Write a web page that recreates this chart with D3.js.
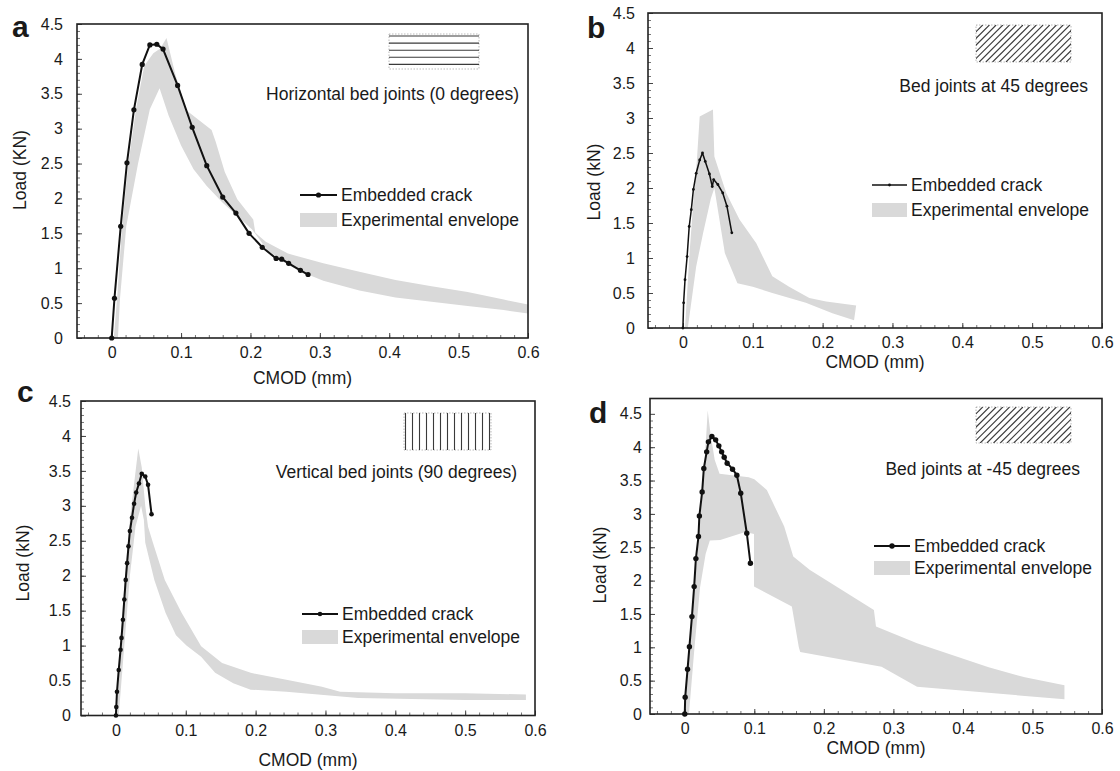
<!DOCTYPE html>
<html>
<head>
<meta charset="utf-8">
<script src="https://cdn.jsdelivr.net/npm/d3@7"></script>
<style>
  body { margin: 0; background: #fff; }
  svg text { font-family: "Liberation Sans", Arial, Helvetica, sans-serif; fill: #1a1a1a; }
</style>
</head>
<body>
<svg id="fig" width="1120" height="771"></svg>
<script>
// tick values, shared by the four panels
const xTicks = [0, 0.1, 0.2, 0.3, 0.4, 0.5, 0.6];
const yTicks = [0, 0.5, 1, 1.5, 2, 2.5, 3, 3.5, 4, 4.5];
const legendLabels = ["Embedded crack", "Experimental envelope"];

// (a) horizontal bed joints - [CMOD mm, load kN]
const crackA = [[0,0],[0.004,0.57],[0.013,1.6],[0.022,2.51],[0.032,3.27],[0.044,3.92],[0.055,4.2],[0.065,4.21],
  [0.074,4.14],[0.095,3.62],[0.116,3.02],[0.137,2.47],[0.16,2.02],[0.179,1.79],[0.198,1.5],[0.217,1.3],
  [0.237,1.14],[0.245,1.13],[0.255,1.07],[0.272,0.97],[0.283,0.91]];
const upperA = [[0.003,0],[0.008,0.6],[0.015,1.6],[0.024,2.5],[0.035,3.28],[0.047,3.9],[0.06,4.08],[0.07,4.15],
  [0.079,4.3],[0.092,3.77],[0.108,3.26],[0.126,3.12],[0.144,2.98],[0.15,2.81],[0.163,2.38],[0.181,1.99],
  [0.204,1.7],[0.207,1.51],[0.222,1.38],[0.254,1.21],[0.305,1.07],[0.357,0.95],[0.409,0.83],[0.461,0.74],
  [0.513,0.66],[0.565,0.55],[0.6,0.48]];
const lowerA = [[0.009,0],[0.012,0.57],[0.021,1.6],[0.038,2.5],[0.055,3.28],[0.069,3.58],[0.082,3.19],[0.1,2.76],
  [0.118,2.42],[0.137,2.18],[0.16,1.94],[0.181,1.75],[0.202,1.56],[0.225,1.25],[0.254,1.05],[0.273,0.95],
  [0.305,0.82],[0.357,0.68],[0.409,0.58],[0.461,0.52],[0.513,0.46],[0.565,0.4],[0.6,0.35]];

// (b) bed joints at 45 degrees
const crackB = [[0,0],[0.001,0.36],[0.003,0.69],[0.006,1.02],[0.009,1.45],[0.012,1.69],[0.015,1.98],[0.019,2.21],
  [0.024,2.4],[0.028,2.5],[0.032,2.38],[0.038,2.2],[0.042,2.02],[0.044,2.12],[0.05,2.05],[0.057,1.93],
  [0.063,1.74],[0.07,1.36]];
const upperB = [[0.003,0],[0.009,1.0],[0.014,1.69],[0.02,2.4],[0.024,3.02],[0.043,3.12],[0.045,2.45],[0.062,1.93],
  [0.081,1.55],[0.105,1.21],[0.128,0.74],[0.152,0.59],[0.181,0.43],[0.205,0.38],[0.248,0.32]];
const lowerB = [[0.007,0],[0.019,0.88],[0.029,1.36],[0.04,1.85],[0.045,2.0],[0.06,1.07],[0.078,0.64],[0.1,0.59],
  [0.128,0.5],[0.176,0.36],[0.214,0.21],[0.245,0.11]];

// (c) vertical bed joints
const crackC = [[0,0],[0.0005,0.12],[0.0015,0.34],[0.004,0.65],[0.0066,0.94],[0.008,1.11],[0.01,1.37],[0.012,1.66],
  [0.014,1.94],[0.016,2.18],[0.018,2.42],[0.02,2.64],[0.023,2.83],[0.026,3.03],[0.029,3.19],[0.033,3.32],
  [0.037,3.46],[0.042,3.42],[0.046,3.3],[0.051,2.88]];
const upperC = [[0.001,0],[0.006,1.0],[0.013,2.0],[0.02,2.8],[0.027,3.4],[0.032,3.82],[0.037,3.55],[0.042,3.0],
  [0.046,2.7],[0.053,2.47],[0.07,1.94],[0.094,1.47],[0.122,0.99],[0.152,0.75],[0.193,0.61],[0.244,0.51],
  [0.295,0.41],[0.321,0.34],[0.4,0.32],[0.5,0.32],[0.587,0.3]];
const lowerC = [[0.004,0],[0.012,1.0],[0.02,2.0],[0.028,2.7],[0.036,3.0],[0.04,2.8],[0.042,2.47],[0.055,1.94],
  [0.071,1.47],[0.086,1.15],[0.101,1.0],[0.122,0.84],[0.142,0.61],[0.168,0.46],[0.193,0.37],[0.244,0.34],
  [0.347,0.25],[0.5,0.22],[0.587,0.22]];

// (d) bed joints at -45 degrees
const crackD = [[0,0],[0.0006,0.25],[0.004,0.67],[0.0067,1.01],[0.0103,1.46],[0.0135,1.91],[0.016,2.33],
  [0.0197,2.66],[0.021,2.97],[0.025,3.33],[0.0274,3.68],[0.0315,3.93],[0.034,4.08],[0.039,4.16],[0.0444,4.11],
  [0.049,4.02],[0.053,3.93],[0.0567,3.85],[0.061,3.76],[0.0687,3.67],[0.0749,3.58],[0.0805,3.31],[0.0892,2.71],
  [0.0944,2.26]];
const upperD = [[0,0],[0.002,0.4],[0.01,1.5],[0.02,2.6],[0.027,3.6],[0.031,4.2],[0.033,4.55],[0.037,4.2],
  [0.043,3.81],[0.05,3.6],[0.092,3.55],[0.1,3.52],[0.118,3.36],[0.143,2.81],[0.156,2.36],[0.18,2.16],
  [0.272,1.56],[0.275,1.31],[0.334,1.06],[0.437,0.7],[0.489,0.55],[0.546,0.43]];
const lowerD = [[0.006,0],[0.014,1.0],[0.022,1.9],[0.03,2.4],[0.036,2.6],[0.051,2.61],[0.087,2.73],[0.0996,2.7],
  [0.0996,1.91],[0.154,1.61],[0.164,1.0],[0.166,0.93],[0.283,0.71],[0.334,0.41],[0.546,0.22]];

const jointTitles = ["Horizontal bed joints (0 degrees)", "Bed joints at 45 degrees",
  "Vertical bed joints (90 degrees)", "Bed joints at -45 degrees"];

// page layout for each panel (pixels)
const panels = [
  { tag: "a", crack: crackA, up: upperA, lo: lowerA, yMax: 4.5, yTitle: "Load (KN)", title: jointTitles[0],
    f: { l: 77, r: 528, t: 24, b: 338 }, gap: 14, lw: 2, mr: 2.6,
    tagPos: [12, 37], yTitlePos: [20, 170], xTitleY: 384, titlePos: [519, 99.5],
    hatch: { kind: "h", x: 389, y: 34, w: 90, h: 35 },
    leg: { x: 300, y1: 195, y2: 220, sw: 37 } },
  { tag: "b", crack: crackB, up: upperB, lo: lowerB, yMax: 4.5, yTitle: "Load (kN)", title: jointTitles[1],
    f: { l: 648, r: 1102, t: 13, b: 328 }, gap: 13, lw: 1.5, mr: 1.4,
    tagPos: [587, 38], yTitlePos: [594, 182], xTitleY: 368, titlePos: [1088, 92],
    hatch: { kind: "d", x: 976, y: 25, w: 95, h: 37 },
    leg: { x: 872, y1: 185, y2: 210, sw: 35 } },
  { tag: "c", crack: crackC, up: upperC, lo: lowerC, yMax: 4.5, yTitle: "Load (kN)", title: jointTitles[2],
    f: { l: 81, r: 535, t: 401, b: 715.5 }, gap: 10, lw: 2, mr: 2.3,
    tagPos: [17, 402], yTitlePos: [23, 563], xTitleY: 766, titlePos: [517, 478],
    hatch: { kind: "v", x: 404, y: 413, w: 87, h: 37 },
    leg: { x: 302, y1: 614, y2: 637, sw: 36 } },
  { tag: "d", crack: crackD, up: upperD, lo: lowerD, yMax: 4.73, yTitle: "Load (kN)", title: jointTitles[3],
    f: { l: 650, r: 1102, t: 398.5, b: 714 }, gap: 8, lw: 2, mr: 2.7,
    tagPos: [589, 423], yTitlePos: [600, 565], xTitleY: 754, titlePos: [1080, 475],
    hatch: { kind: "d", x: 976, y: 407, w: 95, h: 36 },
    leg: { x: 874, y1: 546, y2: 568, sw: 36 } }
];

const svg = d3.select("#fig");
const envFill = "#d9d9d9";

function drawHatch(g, hb, idx) {
  const id = "hclip" + idx;
  g.append("clipPath").attr("id", id).append("rect")
    .attr("x", hb.x).attr("y", hb.y).attr("width", hb.w).attr("height", hb.h);
  g.append("rect").attr("x", hb.x).attr("y", hb.y).attr("width", hb.w).attr("height", hb.h)
    .attr("fill", "none").attr("stroke", "#aaa").attr("stroke-width", 0.8).attr("stroke-dasharray", "1.5,1.5");
  const hg = g.append("g").attr("clip-path", `url(#${id})`).attr("stroke", "#3a3a3a").attr("stroke-width", 1.1);
  if (hb.kind === "h") {
    for (let i = 0; i < 5; i++) {
      const yy = hb.y + 2 + i * 7.1;
      hg.append("line").attr("x1", hb.x).attr("x2", hb.x + hb.w).attr("y1", yy).attr("y2", yy);
    }
  } else if (hb.kind === "v") {
    for (let i = 0; i < 13; i++) {
      const xx = hb.x + 1.5 + i * 7.0;
      hg.append("line").attr("x1", xx).attr("x2", xx).attr("y1", hb.y).attr("y2", hb.y + hb.h);
    }
  } else {
    for (let k = -hb.h; k < hb.w; k += 6.7) {
      hg.append("line").attr("x1", hb.x + k).attr("y1", hb.y + hb.h)
        .attr("x2", hb.x + k + hb.h).attr("y2", hb.y);
    }
  }
}

panels.forEach((p, idx) => {
  const g = svg.append("g");
  const x = d3.scaleLinear().domain([-0.05, 0.6]).range([p.f.l, p.f.r]);
  const y = d3.scaleLinear().domain([0, p.yMax]).range([p.f.b, p.f.t]);
  const line = d3.line().x(d => x(d[0])).y(d => y(d[1]));

  // experimental envelope: upper bound out, lower bound back
  const poly = p.up.concat(p.lo.slice().reverse());
  g.append("path").attr("d", line(poly) + "Z").attr("fill", envFill);

  // minor ticks
  g.append("g").attr("transform", `translate(0,${p.f.b})`)
    .call(d3.axisBottom(x).tickValues(d3.range(-0.04, 0.6, 0.02)).tickSize(-3).tickFormat(""))
    .call(a => a.select(".domain").remove())
    .call(a => a.selectAll("line").attr("stroke", "#777"));
  g.append("g").attr("transform", `translate(${p.f.l},0)`)
    .call(d3.axisLeft(y).tickValues(d3.range(0.1, 4.5, 0.1)).tickSize(-3).tickFormat(""))
    .call(a => a.select(".domain").remove())
    .call(a => a.selectAll("line").attr("stroke", "#777"));

  // major ticks + labels
  g.append("g").attr("transform", `translate(0,${p.f.b})`)
    .call(d3.axisBottom(x).tickValues(xTicks).tickSize(-5).tickPadding(9).tickFormat(d3.format("")))
    .call(a => a.select(".domain").remove())
    .call(a => a.selectAll("line").attr("stroke", "#444"))
    .call(a => a.selectAll("text").attr("font-size", 16).attr("font-family", null));
  g.append("g").attr("transform", `translate(${p.f.l},0)`)
    .call(d3.axisLeft(y).tickValues(yTicks).tickSize(-5).tickPadding(p.gap).tickFormat(d3.format("")))
    .call(a => a.select(".domain").remove())
    .call(a => a.selectAll("line").attr("stroke", "#444"))
    .call(a => a.selectAll("text").attr("font-size", 16).attr("font-family", null));

  // frame
  g.append("rect").attr("x", p.f.l).attr("y", p.f.t)
    .attr("width", p.f.r - p.f.l).attr("height", p.f.b - p.f.t)
    .attr("fill", "none").attr("stroke", "#222").attr("stroke-width", 1.6);

  // embedded crack curve
  g.append("path").attr("d", line(p.crack)).attr("fill", "none")
    .attr("stroke", "#111").attr("stroke-width", p.lw).attr("stroke-linejoin", "round");
  g.selectAll("circle.pt").data(p.crack).join("circle").attr("class", "pt")
    .attr("cx", d => x(d[0])).attr("cy", d => y(d[1])).attr("r", p.mr).attr("fill", "#111");

  // legend
  const L = p.leg;
  g.append("line").attr("x1", L.x).attr("x2", L.x + L.sw).attr("y1", L.y1).attr("y2", L.y1)
    .attr("stroke", "#111").attr("stroke-width", p.lw);
  g.append("circle").attr("cx", L.x + L.sw / 2).attr("cy", L.y1).attr("r", p.mr).attr("fill", "#111");
  g.append("text").attr("x", L.x + L.sw + 4).attr("y", L.y1).attr("dy", "0.35em")
    .attr("font-size", 17.5).text(legendLabels[0]);
  g.append("rect").attr("x", L.x).attr("y", L.y2 - 7).attr("width", L.sw).attr("height", 14).attr("fill", envFill);
  g.append("text").attr("x", L.x + L.sw + 4).attr("y", L.y2).attr("dy", "0.35em")
    .attr("font-size", 17.5).text(legendLabels[1]);

  // joint orientation sketch + caption
  drawHatch(g, p.hatch, idx);
  g.append("text").attr("x", p.titlePos[0]).attr("y", p.titlePos[1]).attr("text-anchor", "end")
    .attr("font-size", 17.5).text(p.title);

  // axis titles
  g.append("text").attr("x", (p.f.l + p.f.r) / 2).attr("y", p.xTitleY).attr("text-anchor", "middle")
    .attr("font-size", 17.5).text("CMOD (mm)");
  g.append("text").attr("transform", `translate(${p.yTitlePos[0]},${p.yTitlePos[1]}) rotate(-90)`)
    .attr("text-anchor", "middle").attr("dy", "0.35em").attr("font-size", 17.5).text(p.yTitle);

  // panel letter
  g.append("text").attr("x", p.tagPos[0]).attr("y", p.tagPos[1])
    .attr("font-size", 30).attr("font-weight", "bold").text(p.tag);
});
</script>
</body>
</html>
